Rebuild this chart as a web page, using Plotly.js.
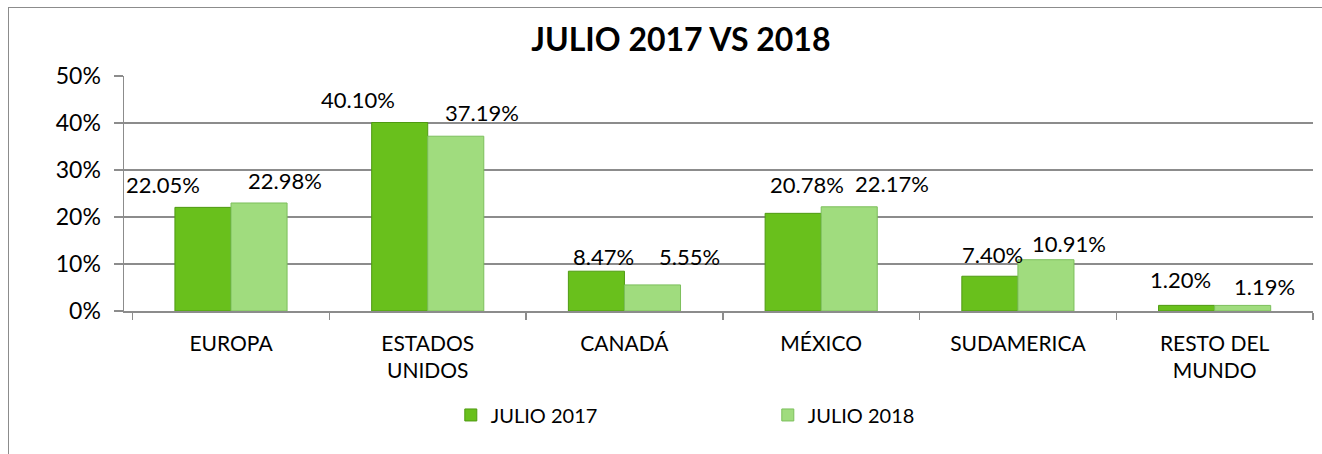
<!DOCTYPE html>
<html>
<head>
<meta charset="utf-8">
<script src="https://cdn.plot.ly/plotly-3.0.1.min.js"></script>
<style>
  html, body { margin: 0; padding: 0; background: #fff; overflow: hidden; }
  #chart { position: absolute; left: 0; top: 0; width: 1322px; height: 454px; }
  #frame { position: absolute; left: 8px; top: 7px; width: 1400px; height: 500px;
           border-left: 1.5px solid #8c8c8c; border-top: 1.5px solid #8c8c8c; pointer-events: none; }
</style>
</head>
<body>
<div id="chart"></div>
<div id="frame"></div>
<script>
// ---- data ----
const categories = ["EUROPA", "ESTADOS<br>UNIDOS", "CANADÁ", "MÉXICO", "SUDAMERICA", "RESTO DEL<br>MUNDO"];
const julio2017 = [0.2205, 0.4010, 0.0847, 0.2078, 0.0740, 0.0120];
const julio2018 = [0.2298, 0.3719, 0.0555, 0.2217, 0.1091, 0.0119];
const labels2017 = ["22.05%", "40.10%", "8.47%", "20.78%", "7.40%", "1.20%"];
const labels2018 = ["22.98%", "37.19%", "5.55%", "22.17%", "10.91%", "1.19%"];
const seriesNames = ["JULIO 2017", "JULIO 2018"];

// ---- label placement (px offsets relative to bar top-centre, as in the source) ----
const dx2017 = [-40, -42, 7, 14, 3, -6];
const dx2018 = [26, 26, 37, 43, 23, 22];
const dy2017 = [23, 23, 15, 29, 22, 26];
const dy2018 = [22, 24, 28, 23, 16, 19];

const FONT = "Lato, 'Open Sans', sans-serif";
const barHalf = 28;

const traces = [
  { type: "bar", name: seriesNames[0], x: categories, y: julio2017,
    marker: { color: "#69c01c", line: { color: "#4f9a12", width: 1 } }, hoverinfo: "none" },
  { type: "bar", name: seriesNames[1], x: categories, y: julio2018,
    marker: { color: "#a0dc7e", line: { color: "#7cbf5c", width: 1 } }, hoverinfo: "none" }
];

const annotations = [];
categories.forEach((c, i) => {
  annotations.push({ x: c, y: julio2017[i], xref: "x", yref: "y", text: labels2017[i],
    showarrow: false, xshift: -barHalf + dx2017[i], yshift: dy2017[i],
    xanchor: "center", yanchor: "middle", font: { family: FONT, size: 22, color: "#000" } });
  annotations.push({ x: c, y: julio2018[i], xref: "x", yref: "y", text: labels2018[i],
    showarrow: false, xshift: barHalf + dx2018[i], yshift: dy2018[i],
    xanchor: "center", yanchor: "middle", font: { family: FONT, size: 22, color: "#000" } });
});

const layout = {
  width: 1322, height: 454,
  margin: { l: 124, r: 9, t: 76, b: 143, autoexpand: false },
  paper_bgcolor: "rgba(0,0,0,0)", plot_bgcolor: "#fff",
  title: { text: "<b>JULIO 2017 VS 2018</b>", x: 0.515, xanchor: "center", y: 0.912, yanchor: "middle",
           font: { family: FONT, size: 32, color: "#000" } },
  barmode: "group", bargap: 0.43, bargroupgap: 0,
  showlegend: true,
  legend: { orientation: "h", xref: "container", yref: "container", x: 0.341, xanchor: "left",
            y: 0.086, yanchor: "middle",
            entrywidth: 272, entrywidthmode: "pixels", itemwidth: 30,
            font: { family: FONT, size: 20, color: "#000" } },
  xaxis: { type: "category", automargin: false, showline: true, linecolor: "#8c8c8c", linewidth: 1.5,
           ticks: "outside", tickson: "boundaries", ticklen: 7, tickcolor: "#8c8c8c", tickwidth: 1.5,
           ticklabelstandoff: 13,
           showgrid: false, tickfont: { family: FONT, size: 21, color: "#000" }, fixedrange: true },
  yaxis: { range: [0, 0.5], dtick: 0.1, tickformat: ".0%", automargin: false, showline: true,
           linecolor: "#8c8c8c", linewidth: 1.5,
           ticks: "outside", ticklen: 9, tickcolor: "#8c8c8c", tickwidth: 1.5,
           showgrid: true, gridcolor: "#8c8c8c", gridwidth: 1.5, zeroline: false,
           tickfont: { family: FONT, size: 23, color: "#000" }, ticklabelstandoff: 8, fixedrange: true },
  annotations: annotations
};

Plotly.newPlot("chart", traces, layout, { displayModeBar: false, staticPlot: true });
</script>
</body>
</html>
